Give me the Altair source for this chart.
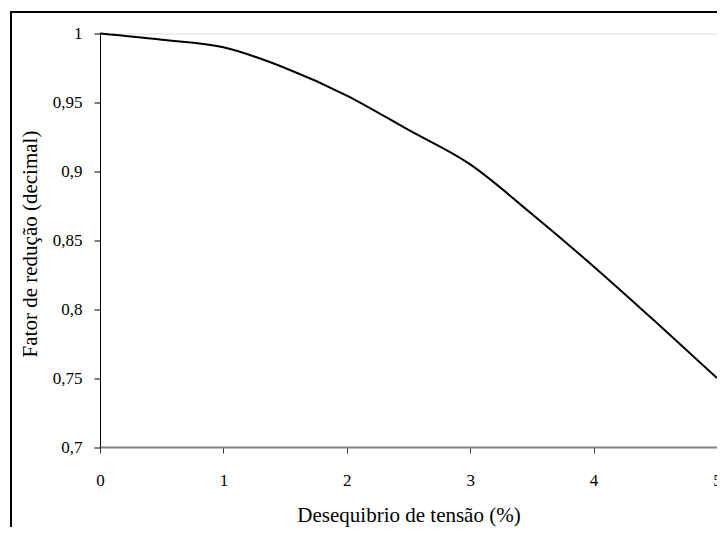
import altair as alt
import pandas as pd

# Data
desequilibrio = [0.0, 0.5, 1.0, 1.5, 2.0, 2.5, 3.0, 3.5, 4.0, 4.5, 5.0]
fator = [1.000, 0.9955, 0.990, 0.975, 0.955, 0.930, 0.905, 0.869, 0.831, 0.791, 0.750]
x_ticks = [0, 1, 2, 3, 4, 5]
y_ticks = [0.7, 0.75, 0.8, 0.85, 0.9, 0.95, 1.0]

df = pd.DataFrame({"x": desequilibrio, "y": fator})

FONT = "Liberation Serif"
W, H = 617, 413.5

line = alt.Chart(df).mark_line(color="black", strokeWidth=2, interpolate="monotone").encode(
    x=alt.X("x:Q",
            scale=alt.Scale(domain=[0, 5], nice=False, zero=False),
            axis=alt.Axis(values=x_ticks, title="Desequibrio de tensão (%)",
                          grid=False, domainColor="#808080", domainWidth=2,
                          tickColor="#333333", tickSize=6, tickWidth=1,
                          labelPadding=19, labelFontSize=17, labelFont=FONT,
                          labelColor="black", labelFlush=False,
                          titleFont=FONT, titleFontSize=21, titleFontWeight="normal",
                          titleColor="black", titlePadding=16)),
    y=alt.Y("y:Q",
            scale=alt.Scale(domain=[0.7, 1.0], nice=False, zero=False),
            axis=alt.Axis(values=y_ticks, title="Fator de redução (decimal)",
                          grid=False, domainColor="black", domainWidth=1,
                          tickColor="black", tickSize=6, tickWidth=1,
                          labelPadding=12, labelFontSize=17, labelFont=FONT,
                          labelColor="black", labelFlush=False,
                          labelExpr="replace(format(datum.value, '~g'), '.', ',')",
                          titleFont=FONT, titleFontSize=21, titleFontWeight="normal",
                          titleColor="black", titlePadding=12, titleY=210)),
)

frame_data = alt.Data(values=[{"k": 1}])
left_border = alt.Chart(frame_data).mark_rule(color="black", strokeWidth=2).encode(
    x=alt.value(-89), y=alt.value(-21.5), y2=alt.value(H + 120))
top_border = alt.Chart(frame_data).mark_rule(color="black", strokeWidth=2).encode(
    y=alt.value(-21.5), x=alt.value(-90), x2=alt.value(W + 20))

chart = alt.layer(line, left_border, top_border).properties(
    width=W, height=H,
    autosize=alt.AutoSizeParams(type="none"),
    padding={"left": 92, "top": 25.5, "right": 0, "bottom": 80},
).configure_view(stroke=None).configure(background="white")

chart.save("out.html", embed_options={"renderer": "svg", "actions": False})
